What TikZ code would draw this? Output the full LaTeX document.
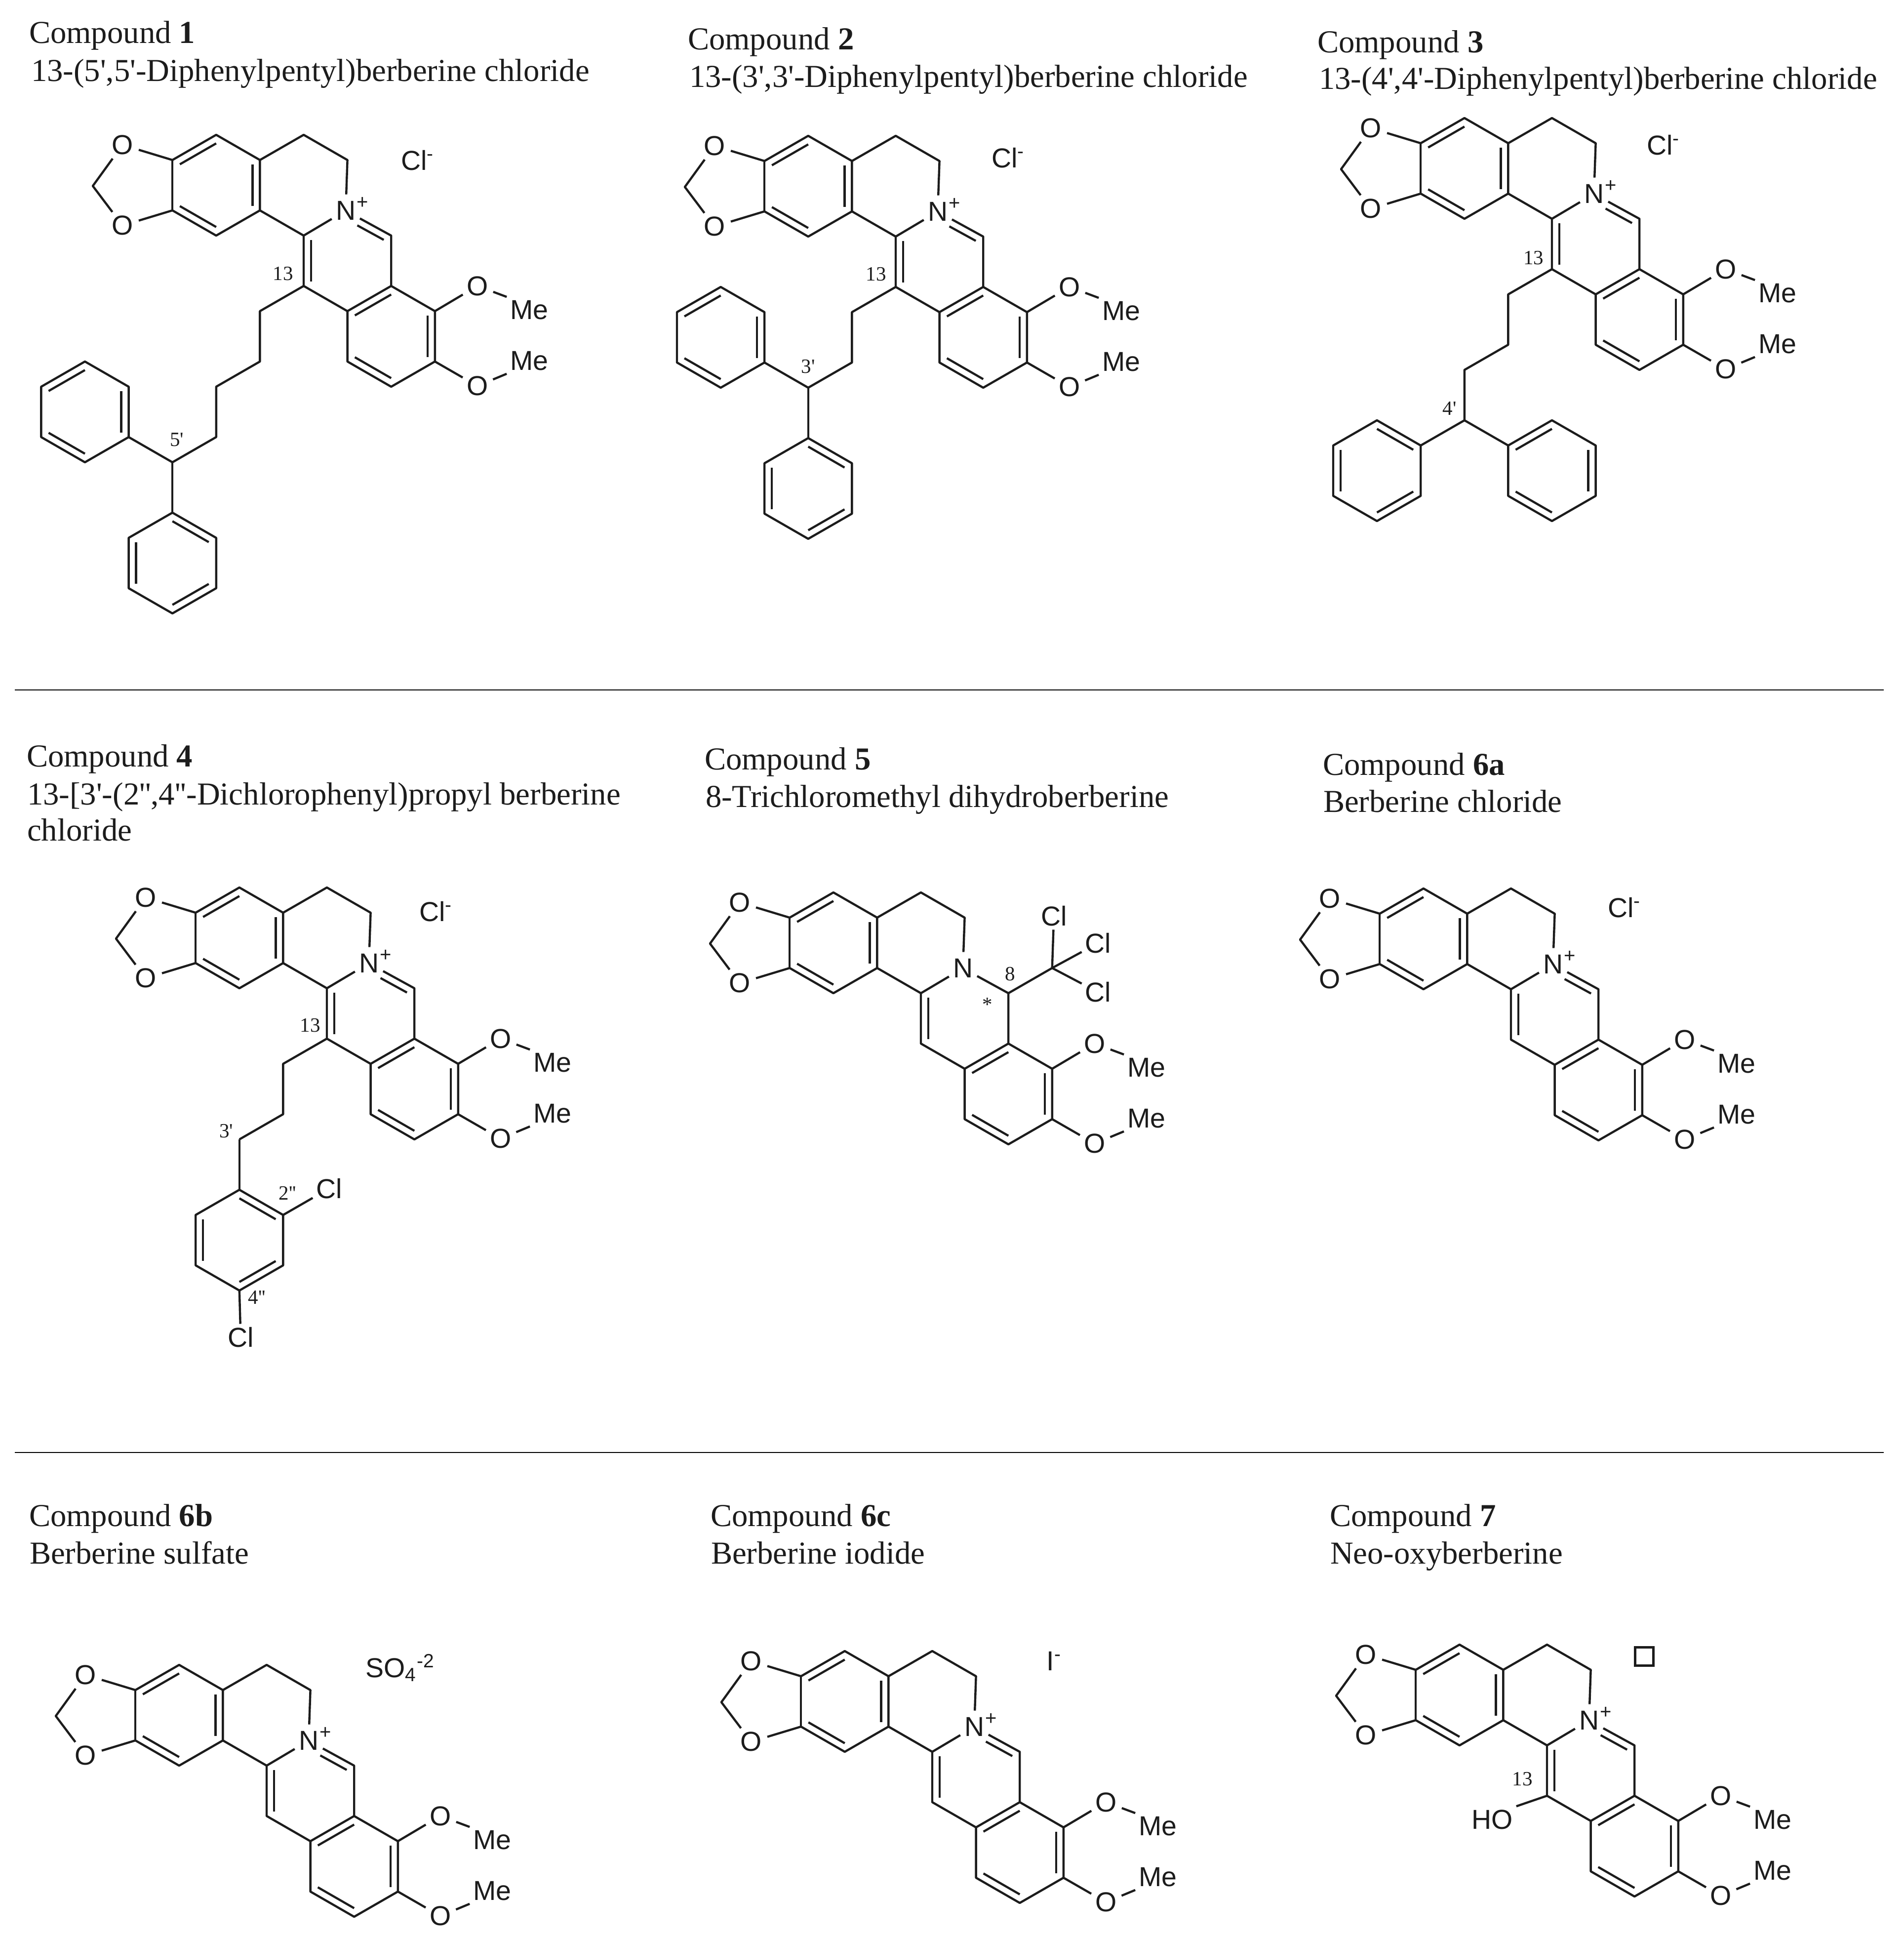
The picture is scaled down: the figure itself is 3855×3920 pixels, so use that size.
\documentclass[tikz,border=0pt]{standalone}
\usepackage{fontspec}
\usetikzlibrary{calc}
\setmainfont[Ligatures=TeXOff]{Liberation Serif}
\newfontfamily\chemfont{Liberation Sans}
\definecolor{ink}{HTML}{1C1C1C}
\newcommand{\atomfont}{\chemfont\fontsize{11.1}{12}\selectfont}
\newcommand{\namefont}{\rmfamily\fontsize{12.95}{13}\selectfont}
\newcommand{\numfont}{\rmfamily\fontsize{8.2}{9}\selectfont}
\tikzset{
  mol/.style 2 args={shift={(#1,#2)},x=17.72pt,y=-10.2pt},
  bond/.style={line width=.88pt,draw=ink,line join=round},
  atom/.style={font=\atomfont,text=ink,circle,inner sep=.6pt},
  atomr/.style={font=\atomfont,text=ink,rectangle,inner sep=1.2pt},
  plusmark/.style={font=\chemfont\fontsize{8}{8}\selectfont,text=ink,inner sep=0pt},
  num/.style={font=\numfont,text=ink,inner sep=0pt},
  title/.style={font=\namefont,text=ink,anchor=base west,inner sep=0pt},
  rulebar/.style={line width=.45pt,draw=black}
}
% inner line of a double bond: both ends pulled toward the ring centre
\newcommand{\dbl}[3]{\draw[bond] ($(#1)!.17!(#3)$) -- ($(#2)!.17!(#3)$);}
% the common skeleton, drawn in lattice units from C13
\newcommand{\core}[2]{%
  \coordinate (#1a) at (-3,-5); \coordinate (#1b) at (-2,-6); \coordinate (#1c) at (-1,-5);
  \coordinate (#1d) at (-1,-3); \coordinate (#1e) at (-2,-2); \coordinate (#1f) at (-3,-3);
  \coordinate (#1g) at (0,-6);  \coordinate (#1h) at (1,-5);  \coordinate (#1i) at (0,-2);
  \coordinate (#1j) at (0,0);   \coordinate (#1k) at (1,1);   \coordinate (#1l) at (2,0);
  \coordinate (#1m) at (2,-2);  \coordinate (#1n) at (3,1);   \coordinate (#1o) at (3,3);
  \coordinate (#1p) at (2,4);   \coordinate (#1q) at (1,3);   \coordinate (#1ch) at (-4.82,-3.97);
  \coordinate (#1RA) at (-2,-4); \coordinate (#1RB) at (0,-4); \coordinate (#1RC) at (1,-1); \coordinate (#1RD) at (2,2);
  \node[atom] (#1O1) at (-4.14,-5.6) {O};
  \node[atom] (#1O2) at (-4.14,-2.4) {O};
  \node[atom] (#1O3) at (3.97,0) {O};
  \node[atom] (#1O4) at (3.97,3.97) {O};
  \node[atom] (#1N) at (.96,-2.99) {N};
  \node[atomr,anchor=west] (#1Me1) at (4.64,.95) {Me};
  \node[atomr,anchor=west] (#1Me2) at (4.64,2.97) {Me};
  \draw[bond] (#1O1) -- (#1ch) -- (#1O2);
  \draw[bond] (#1O1) -- (#1a) -- (#1b) -- (#1c) -- (#1d) -- (#1e) -- (#1f) -- (#1O2);
  \draw[bond] (#1a) -- (#1f);
  \draw[bond] (#1c) -- (#1g) -- (#1h) -- (#1N);
  \draw[bond] (#1d) -- (#1i) -- (#1N);
  \draw[bond] (#1i) -- (#1j) -- (#1k) -- (#1l) -- (#1n) -- (#1o) -- (#1p) -- (#1q) -- (#1k);
  \draw[bond] (#1n) -- (#1O3); \draw[bond] (#1O3) -- (#1Me1.north west);
  \draw[bond] (#1o) -- (#1O4); \draw[bond] (#1O4) -- (#1Me2.south west);
  \dbl{#1a}{#1b}{#1RA} \dbl{#1c}{#1d}{#1RA} \dbl{#1e}{#1f}{#1RA}
  \dbl{#1i}{#1j}{#1RC} \dbl{#1k}{#1l}{#1RD} \dbl{#1n}{#1o}{#1RD} \dbl{#1p}{#1q}{#1RD}
}
% iminium closure: N+=C8 and C8-C8a
\newcommand{\iminium}[1]{%
  \node[plusmark] (#1plus) at (1.34,-3.3) {+};
  \coordinate (#1nm) at ($(#1N)!.3!(#1m)$);
  \draw[bond] (#1N) -- (#1m) -- (#1l);
  \dbl{#1nm}{#1m}{#1RC}
}
% phenyl ring: vertices 1..6 clockwise from the top
\newcommand{\ring}[3]{%
  \coordinate (#1c) at (#2,#3);
  \coordinate (#11) at (#2,#3-2);
  \coordinate (#12) at (#2+1,#3-1);
  \coordinate (#13) at (#2+1,#3+1);
  \coordinate (#14) at (#2,#3+2);
  \coordinate (#15) at (#2-1,#3+1);
  \coordinate (#16) at (#2-1,#3-1);
  \draw[bond] (#11) -- (#12) -- (#13) -- (#14) -- (#15) -- (#16) -- cycle;
}
\newcommand{\dblA}[1]{\dbl{#11}{#12}{#1c} \dbl{#13}{#14}{#1c} \dbl{#15}{#16}{#1c}}
\newcommand{\dblB}[1]{\dbl{#12}{#13}{#1c} \dbl{#14}{#15}{#1c} \dbl{#16}{#11}{#1c}}
\begin{document}
\begin{tikzpicture}[x=.2pt,y=-.2pt]
\useasboundingbox (0,0) rectangle (3855,3920);

% rules
\coordinate (r1a) at (30,1397); \coordinate (r1b) at (3815,1397);
\coordinate (r2a) at (30,2941); \coordinate (r2b) at (3815,2941);
\draw[rulebar] (r1a) -- (r1b);
\draw[rulebar] (r2a) -- (r2b);

% titles
\node[title] (t1a) at (58,87) {Compound \textbf{1}};
\node[title] (t1b) at (62,164) {13-(5',5'-Diphenylpentyl)berberine chloride};
\node[title] (t2a) at (1392,100) {Compound \textbf{2}};
\node[title] (t2b) at (1395,176) {13-(3',3'-Diphenylpentyl)berberine chloride};
\node[title] (t3a) at (2667,106) {Compound \textbf{3}};
\node[title] (t3b) at (2670,180) {13-(4',4'-Diphenylpentyl)berberine chloride};
\node[title] (t4a) at (53,1552) {Compound \textbf{4}};
\node[title] (t4b) at (54,1629) {13-[3'-(2'',4''-Dichlorophenyl)propyl berberine};
\node[title] (t4c) at (54,1702) {chloride};
\node[title] (t5a) at (1426,1558) {Compound \textbf{5}};
\node[title] (t5b) at (1428,1634) {8-Trichloromethyl dihydroberberine};
\node[title] (t6a) at (2678,1569) {Compound \textbf{6a}};
\node[title] (t6b) at (2679,1644) {Berberine chloride};
\node[title] (t7a) at (58,3090) {Compound \textbf{6b}};
\node[title] (t7b) at (59,3166) {Berberine sulfate};
\node[title] (t8a) at (1438,3090) {Compound \textbf{6c}};
\node[title] (t8b) at (1439,3166) {Berberine iodide};
\node[title] (t9a) at (2692,3090) {Compound \textbf{7}};
\node[title] (t9b) at (2693,3166) {Neo-oxyberberine};

% counter-ions
\node[atom] (ion1) at (846,325) {Cl\textsuperscript{-}};
\node[atom] (ion2) at (2042,320) {Cl\textsuperscript{-}};
\node[atom] (ion3) at (3369,294) {Cl\textsuperscript{-}};
\node[atom] (ion4) at (883,1846) {Cl\textsuperscript{-}};
\node[atom] (ion6) at (3290,1838) {Cl\textsuperscript{-}};
\node[atomr] (ion7) at (811,3377) {SO\textsubscript{4}\textsuperscript{-2}};
\node[atom] (ion8) at (2135,3363) {I\textsuperscript{-}};
\node[draw=ink,line width=.85pt,minimum size=7.4pt,inner sep=0pt] (ion9) at (3330,3354) {};

% Compound 1
\begin{scope}[mol={615}{579}]
  \core{A}{}\iminium{A}
  \node[num] (An13) at (-.47,-.49) {13};
  \node[num] (An5) at (-2.9,6.1) {5'};
  \coordinate (Ac1) at (-1,1); \coordinate (Ac2) at (-1,3); \coordinate (Ac3) at (-2,4);
  \coordinate (Ac4) at (-2,6); \coordinate (Ac5) at (-3,7);
  \draw[bond] (Aj) -- (Ac1) -- (Ac2) -- (Ac3) -- (Ac4) -- (Ac5);
  \ring{Ax}{-5}{5} \dblB{Ax}
  \ring{Ay}{-3}{11} \dblA{Ay}
  \draw[bond] (Ac5) -- (Ax3);
  \draw[bond] (Ac5) -- (Ay1);
\end{scope}

% Compound 2
\begin{scope}[mol={1814}{581}]
  \core{B}{}\iminium{B}
  \node[num] (Bn13) at (-.45,-.5) {13};
  \node[num] (Bn3) at (-2,3.16) {3'};
  \coordinate (Bc1) at (-1,1); \coordinate (Bc2) at (-1,3); \coordinate (Bc3) at (-2,4);
  \draw[bond] (Bj) -- (Bc1) -- (Bc2) -- (Bc3);
  \ring{Bx}{-4}{2} \dblB{Bx}
  \ring{By}{-2}{8} \dblA{By}
  \draw[bond] (Bc3) -- (Bx3);
  \draw[bond] (Bc3) -- (By1);
\end{scope}

% Compound 3
\begin{scope}[mol={3143}{545}]
  \core{C}{}\iminium{C}
  \node[num] (Cn13) at (-.42,-.44) {13};
  \node[num] (Cn4) at (-2.34,5.53) {4'};
  \coordinate (Cc1) at (-1,1); \coordinate (Cc2) at (-1,3); \coordinate (Cc3) at (-2,4);
  \coordinate (Cc4) at (-2,6);
  \draw[bond] (Cj) -- (Cc1) -- (Cc2) -- (Cc3) -- (Cc4);
  \ring{Cx}{-4}{8} \dblA{Cx}
  \ring{Cy}{0}{8} \dblB{Cy}
  \draw[bond] (Cc4) -- (Cx2);
  \draw[bond] (Cc4) -- (Cy6);
\end{scope}

% Compound 4
\begin{scope}[mol={662}{2103}]
  \core{D}{}\iminium{D}
  \node[num] (Dn13) at (-.38,-.52) {13};
  \node[num] (Dn3) at (-2.3,3.66) {3'};
  \node[num] (Dn2) at (-.9,6.14) {2''};
  \node[num] (Dn4) at (-1.6,10.28) {4''};
  \coordinate (Dc1) at (-1,1); \coordinate (Dc2) at (-1,3); \coordinate (Dc3) at (-2,4);
  \draw[bond] (Dj) -- (Dc1) -- (Dc2) -- (Dc3);
  \ring{Dx}{-2}{8} \dblA{Dx}
  \draw[bond] (Dc3) -- (Dx1);
  \node[atomr] (DCl1) at (.05,5.95) {Cl};
  \node[atomr] (DCl2) at (-1.97,11.86) {Cl};
  \draw[bond] (Dx2) -- (DCl1);
  \draw[bond] (Dx4) -- (DCl2);
\end{scope}

% Compound 5
\begin{scope}[mol={1865}{2113}]
  \core{E}{}
  \draw[bond] (EN) -- (Em) -- (El);
  \coordinate (Ecc) at (3,-3);
  \draw[bond] (Em) -- (Ecc);
  \node[atomr] (ECl1) at (3.04,-5.06) {Cl};
  \node[atomr] (ECl2) at (4.05,-3.99) {Cl};
  \node[atomr] (ECl3) at (4.05,-2.04) {Cl};
  \draw[bond] (Ecc) -- (ECl1);
  \draw[bond] (Ecc) -- (ECl2);
  \draw[bond] (Ecc) -- (ECl3);
  \node[num] (En8) at (2.04,-2.76) {8};
  \node[num] (Enst) at (1.52,-1.54) {*};
\end{scope}

% Compound 6a
\begin{scope}[mol={3060}{2105}]
  \core{F}{}\iminium{F}
\end{scope}

% Compound 6b
\begin{scope}[mol={540}{3677}]
  \core{G}{}\iminium{G}
\end{scope}

% Compound 6c
\begin{scope}[mol={1888}{3649}]
  \core{H}{}\iminium{H}
\end{scope}

% Compound 7
\begin{scope}[mol={3133}{3636}]
  \core{I}{}\iminium{I}
  \node[num] (In13) at (-.56,-.66) {13};
  \node[atomr] (IOH) at (-1.25,.94) {HO};
  \draw[bond] (Ij) -- (IOH.north east);
\end{scope}
\end{tikzpicture}
\end{document}
